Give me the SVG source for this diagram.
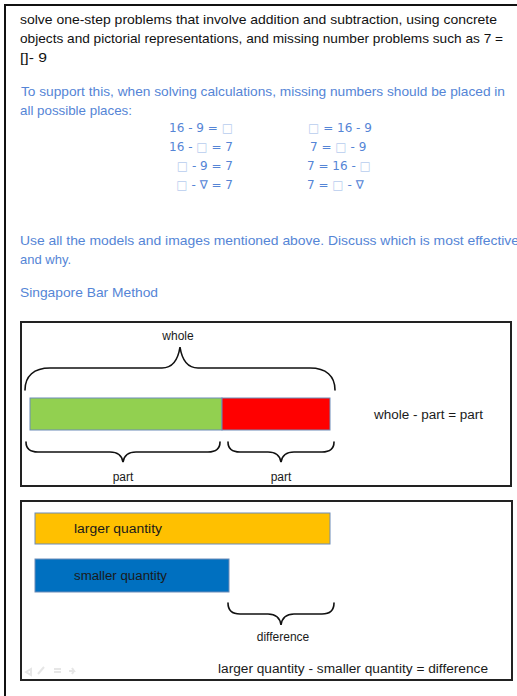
<svg xmlns="http://www.w3.org/2000/svg" width="517" height="696" viewBox="0 0 517 696">
<style>
.t{font-family:"Liberation Sans",Arial,sans-serif;font-size:13px;fill:#111}
.b{font-family:"Liberation Sans",Arial,sans-serif;font-size:13px;fill:#5585d6}
.eq{font-family:"DejaVu Sans","Liberation Sans",sans-serif;font-size:12px;fill:#5585d6}
.sq{fill:#b8cdee}
.s{font-family:"Liberation Sans",Arial,sans-serif;font-size:12px;fill:#1a1a1a}
.box{fill:#fff;stroke:#222;stroke-width:2}
.bar{stroke:#6d8cb8;stroke-width:1}
.brace{fill:none;stroke:#111;stroke-width:1.6;stroke-linecap:round}
.faint{fill:none;stroke:#e6e6e6;stroke-width:2}
</style>
<rect width="517" height="696" fill="#fff"/>
<g id="frame">
<line x1="4" y1="5" x2="517" y2="5" stroke="#111" stroke-width="2"/>
<line x1="5" y1="4" x2="5" y2="696" stroke="#111" stroke-width="2"/>
</g>
<g id="intro-text">
<text class="t" x="20" y="24" textLength="477" lengthAdjust="spacingAndGlyphs">solve one-step problems that involve addition and subtraction, using concrete</text>
<text class="t" x="20" y="43" textLength="483" lengthAdjust="spacingAndGlyphs">objects and pictorial representations, and missing number problems such as 7 =</text>
<text class="t" x="20" y="62" textLength="27" lengthAdjust="spacingAndGlyphs">[]- 9</text>
<text class="b" x="21" y="96" textLength="484" lengthAdjust="spacingAndGlyphs">To support this, when solving calculations, missing numbers should be placed in</text>
<text class="b" x="20" y="115" textLength="112" lengthAdjust="spacingAndGlyphs">all possible places:</text>
</g>
<g id="equations">
<text class="eq" x="233" y="132" text-anchor="end">16 - 9 = <tspan class="sq">□</tspan></text>
<text class="eq" x="233" y="151" text-anchor="end">16 - <tspan class="sq">□</tspan> = 7</text>
<text class="eq" x="233" y="170" text-anchor="end"><tspan class="sq">□</tspan> - 9 = 7</text>
<text class="eq" x="233" y="189" text-anchor="end"><tspan class="sq">□</tspan> - ∇ = 7</text>
<text class="eq" x="308" y="132"><tspan class="sq">□</tspan> = 16 - 9</text>
<text class="eq" x="310" y="151">7 = <tspan class="sq">□</tspan> - 9</text>
<text class="eq" x="307" y="170">7 = 16 - <tspan class="sq">□</tspan></text>
<text class="eq" x="307" y="189">7 = <tspan class="sq">□</tspan> - ∇</text>
</g>
<g id="discussion-text">
<text class="b" x="20" y="245" textLength="499" lengthAdjust="spacingAndGlyphs">Use all the models and images mentioned above.  Discuss which is most effective</text>
<text class="b" x="20" y="264">and why.</text>
<text class="b" x="20" y="297" textLength="138" lengthAdjust="spacingAndGlyphs">Singapore Bar Method</text>
</g>
<g id="part-whole-model">
<rect class="box" x="21" y="322" width="490" height="164"/>
<rect class="bar" x="30" y="398" width="192" height="32" fill="#92d050"/>
<rect class="bar" x="222" y="398" width="108" height="32" fill="#ff0000"/>
<text class="s" x="178" y="340" text-anchor="middle">whole</text>
<text class="s" x="123" y="481" text-anchor="middle">part</text>
<text class="s" x="281" y="481" text-anchor="middle">part</text>
<text class="s" x="374" y="419" textLength="109" lengthAdjust="spacingAndGlyphs">whole - part = part</text>
</g>
<g id="comparison-model">
<rect class="box" x="21" y="501" width="491" height="179"/>
<rect class="bar" x="35" y="513" width="295" height="31" fill="#ffc000"/>
<rect class="bar" x="35" y="559" width="194" height="33" fill="#0070c0"/>
<text class="s" x="74" y="533" textLength="88" lengthAdjust="spacingAndGlyphs">larger quantity</text>
<text class="s" x="74" y="580" textLength="93" lengthAdjust="spacingAndGlyphs">smaller quantity</text>
<text class="s" x="283" y="641" text-anchor="middle">difference</text>
<text class="s" x="218" y="673" textLength="270" lengthAdjust="spacingAndGlyphs">larger quantity - smaller quantity = difference</text>
<g id="slide-controls">
<path class="faint" d="M26,672 l5,-3 v6 z M38,674 l6,-7 M54,669 h7 M54,672 h7 M69,671 h5 l-2,-3 M74,671 l-2,3"/>
</g>
</g>
<g id="connectors">
<path class="brace" d="M25,390 C25,376 34,368 50,368 L162,368 C173,368 178,360 180,347 C182,360 187,368 198,368 L310,368 C326,368 335,376 335,390"/>
<path class="brace" d="M26,442 C26,449 30,452 38,452 L110,452 C118,452 122,456 123,462 C124,456 128,452 136,452 L208,452 C216,452 220,449 220,442"/>
<path class="brace" d="M228,442 C228,449 232,452 240,452 L268,452 C276,452 280,456 281,462 C282,456 286,452 294,452 L322,452 C330,452 334,449 334,442"/>
<path class="brace" d="M228,603 C228,610 232,614 240,614 L268,614 C276,614 280,618 281,625 C282,618 286,614 294,614 L322,614 C330,614 334,610 334,603"/>
</g>
</svg>
